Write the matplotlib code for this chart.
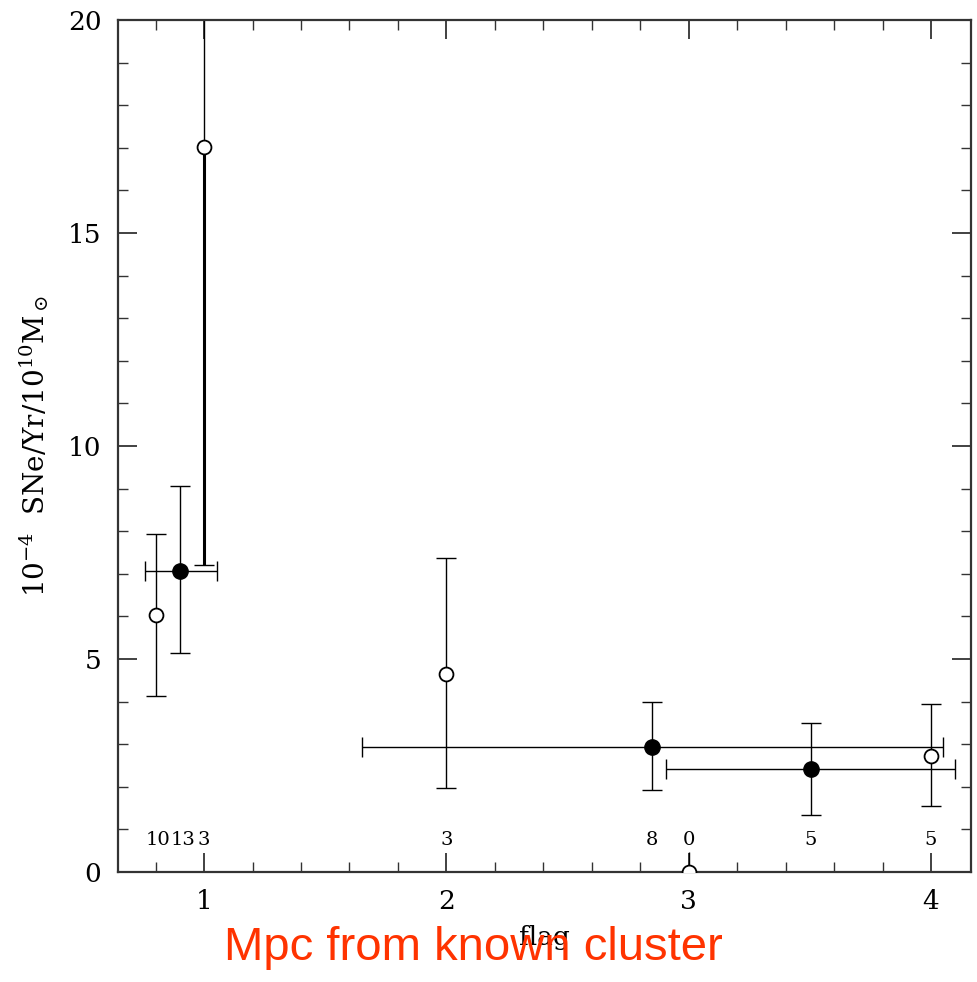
import numpy as np
import matplotlib.pyplot as plt
from matplotlib.ticker import MultipleLocator

plt.rcParams['font.family'] = 'DejaVu Serif'
plt.rcParams['mathtext.fontset'] = 'dejavuserif'

# open circles
open_x = [0.80, 1.00, 2.00, 4.00]
open_y = [6.04, 17.03, 4.66, 2.72]
open_lo = [4.13, 7.20, 1.98, 1.55]
open_hi = [7.94, 22.0, 7.37, 3.95]

# filled circles (binned), with x ranges
fill_x = [0.90, 2.85, 3.505]
fill_y = [7.07, 2.93, 2.41]
fill_lo = [5.13, 1.92, 1.35]
fill_hi = [9.05, 3.99, 3.50]
fill_xlo = [0.757, 1.652, 2.907]
fill_xhi = [1.054, 4.05, 4.10]

# empty bin sitting on the axis
zero_x = 3.0
zero_y = 0.0
zero_hi = 0.47

# number of objects per point
count_x = [0.81, 0.913, 1.0, 2.0, 2.85, 3.0, 3.505, 4.0]
count_lab = ['10', '13', '3', '3', '8', '0', '5', '5']

fig = plt.figure(figsize=(9.77, 9.82), dpi=100)
ax = fig.add_axes([0.1208, 0.112, 0.873, 0.8676])

ox = np.array(open_x)
oy = np.array(open_y)
yerr_o = [oy - np.array(open_lo), np.array(open_hi) - oy]
ax.errorbar(ox, oy, yerr=yerr_o, fmt='none', ecolor='black', elinewidth=1.0,
            capsize=7, capthick=1.0)
# the long lower bar at flag=1 is drawn heavier
ax.vlines(open_x[1], open_lo[1], open_y[1], colors='black', linewidth=2.2)
ax.plot(ox, oy, 'o', mfc='white', mec='black', ms=10, mew=1.3, zorder=5)

fx = np.array(fill_x)
fy = np.array(fill_y)
yerr_f = [fy - np.array(fill_lo), np.array(fill_hi) - fy]
xerr_f = [fx - np.array(fill_xlo), np.array(fill_xhi) - fx]
ax.errorbar(fx, fy, yerr=yerr_f, xerr=xerr_f, fmt='o', color='black',
            ms=11, elinewidth=1.0, capsize=7, capthick=1.0, zorder=5)

ax.vlines(zero_x, zero_y, zero_hi, colors='black', linewidth=1.0)
ax.plot([zero_x], [zero_y], 'o', mfc='white', mec='black', ms=10, mew=1.3,
        zorder=5, clip_on=True)

for cx, lab in zip(count_x, count_lab):
    ax.text(cx, 0.75, lab, ha='center', va='center', fontsize=14)

ax.set_xlim(0.645, 4.165)
ax.set_ylim(0, 20)
ax.xaxis.set_major_locator(MultipleLocator(1))
ax.xaxis.set_minor_locator(MultipleLocator(0.2))
ax.yaxis.set_major_locator(MultipleLocator(5))
ax.yaxis.set_minor_locator(MultipleLocator(1))
ax.tick_params(which='both', direction='in', top=True, right=True,
               labelsize=19, color='#333333')
ax.tick_params(which='major', length=14, width=1.3, pad=12)
ax.tick_params(which='minor', length=7, width=1.0)
for sp in ax.spines.values():
    sp.set_linewidth(1.6)
    sp.set_color('#333333')

ax.set_xlabel('flag', fontsize=19, labelpad=8)
ax.set_ylabel(r'$10^{-4}$  SNe/Yr/$10^{10}$M$_\odot$', fontsize=20, labelpad=12)

fig.text(0.485, 0.035, 'Mpc from known cluster', color='#FF3300',
         fontsize=34, family='Liberation Sans', ha='center', va='center')

fig.savefig('out.png', dpi=100)
